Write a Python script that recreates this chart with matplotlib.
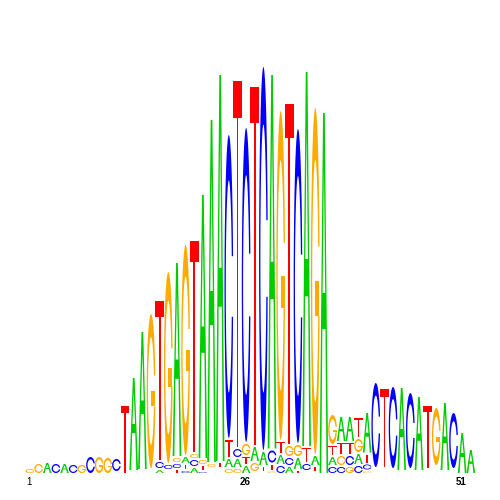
import matplotlib
matplotlib.use("Agg")
import matplotlib.pyplot as plt
import numpy as np
from matplotlib.patches import PathPatch
from matplotlib.path import Path
from matplotlib.transforms import Affine2D

# Each column: letters from bottom to top, heights of all but the top letter.
STACK_LETTERS = [
    "G", "G", "A", "C", "A", "C", "G", "C", "G", "G", "C", "T", "A", "A", "G",
    "ACT", "CG", "TCGA", "CTAG", "ACGT", "CTGA", "GA", "TA", "GATC", "GACT",
    "ATGC", "GAT", "TAC", "GTCA", "CATG", "ACGT", "TAGC", "CTA", "TAG", "A",
    "CATG", "CGTA", "GCTA", "CAGT", "GCTA", "C", "T", "C", "A", "C", "A", "T",
    "G", "A", "C", "A", "A",
]
LOWER_HEIGHTS = [
    [], [], [], [], [], [], [], [], [], [], [], [], [], [], [],
    [3, 6], [4], [3, 4, 4], [2, 4, 6], [5, 6, 4], [1, 4, 4], [3], [4], [4, 8, 17],
    [4, 8, 8], [7, 7, 11], [8, 14], [4, 13], [1.5, 5, 12], [7, 9, 11], [6, 7, 10],
    [2, 11, 11], [6, 14], [4, 9], [], [6, 8, 9], [6, 9, 11], [6, 9, 11], [7, 10, 13],
    [1.5, 5, 8], [], [], [], [], [], [], [], [], [], [], [], [],
]
STACK_TOTALS = [
    4, 9, 10, 9, 9, 8, 8, 16, 16, 15, 14, 67, 95, 141, 159,
    172, 201, 210, 228, 232, 278, 353, 398, 338, 392,
    345, 386, 406, 398, 362, 369, 344, 401, 365, 360,
    58, 56, 56, 55, 60, 90, 84, 86, 85, 80, 76, 67,
    65, 70, 60, 40, 23,
]
# Blank height under each stack (low-content residues that are not drawn).
UNDRAWN = [
    0, 0, 0, 0, 0, 0, 0, 0, 0, 0, 2, 0, 3, 4, 5,
    0, 4, 0, 0, 0, 0, 6, 6, 0, 0,
    0, 2, 2, 0, 0, 0, 0, 3, 2, 0,
    0, 0, 0, 0, 0, 6, 6, 5, 3, 5, 3, 5,
    8, 3, 5, 0, 0,
]
TICK_POSITIONS = [1, 26, 51]
TICK_WEIGHTS = ["normal", "bold", "bold"]

COLORS = {"A": "#00CC00", "C": "#0000FF", "G": "#FFAA00", "T": "#FF0000"}
GAP = 2.0


def poly(points):
    pts = np.asarray(points, dtype=float)
    verts = np.vstack([pts, pts[:1]])
    codes = [Path.MOVETO] + [Path.LINETO] * (len(pts) - 1) + [Path.CLOSEPOLY]
    return Path(verts, codes)


def ring_polygon():
    t_o = np.linspace(np.arcsin(0.2), 2 * np.pi - np.arcsin(0.2), 200)
    t_i = np.linspace(np.arcsin(0.1 / 0.35), 2 * np.pi - np.arcsin(0.1 / 0.35), 200)
    outer = np.c_[0.5 + 0.5 * np.cos(t_o), 0.5 + 0.5 * np.sin(t_o)]
    inner = np.c_[0.5 + 0.35 * np.cos(t_i), 0.5 + 0.35 * np.sin(t_i)][::-1]
    return poly(np.vstack([outer, inner]))


GLYPHS = {
    "A": [Path.make_compound_path(
        poly([(0, 0), (.4, 1), (.6, 1), (1, 0), (.8, 0), (.68, .4), (.32, .4), (.2, 0)]),
        poly([(.35, .5), (.65, .5), (.5, .85)]))],
    "C": [ring_polygon()],
    "G": [ring_polygon(),
          poly([(.98, .5), (.5, .5), (.5, .4), (.98, .4)])],
    "T": [poly([(0, 1), (1, 1), (1, .9), (.6, .9), (.6, 0), (.4, 0), (.4, .9), (0, .9)])],
}

fig = plt.figure(figsize=(5, 5), dpi=100)
ax = fig.add_axes([0, 0, 1, 1])
ax.set_xlim(-2.472, 55.37)
ax.set_ylim(-27, 473)
ax.axis("off")


def draw_letter(letter, pos, low, height):
    tr = Affine2D().scale(1, height).translate(pos - 0.5, low) + ax.transData
    for path in GLYPHS[letter]:
        ax.add_patch(PathPatch(path, transform=tr, facecolor=COLORS[letter],
                               edgecolor="none", lw=0))


for i, letters in enumerate(STACK_LETTERS):
    pos = i + 1
    lower = LOWER_HEIGHTS[i]
    y = UNDRAWN[i]
    for c, h in zip(letters[:-1], lower):
        draw_letter(c, pos, y, h)
        y += h + GAP
    draw_letter(letters[-1], pos, y, STACK_TOTALS[i] - y)

for p, w in zip(TICK_POSITIONS, TICK_WEIGHTS):
    ax.text(p - 0.1, -9, str(p), ha="center", va="center", fontsize=7,
            family="Liberation Sans", weight=w, color="black")

fig.savefig("out.png", dpi=100)
